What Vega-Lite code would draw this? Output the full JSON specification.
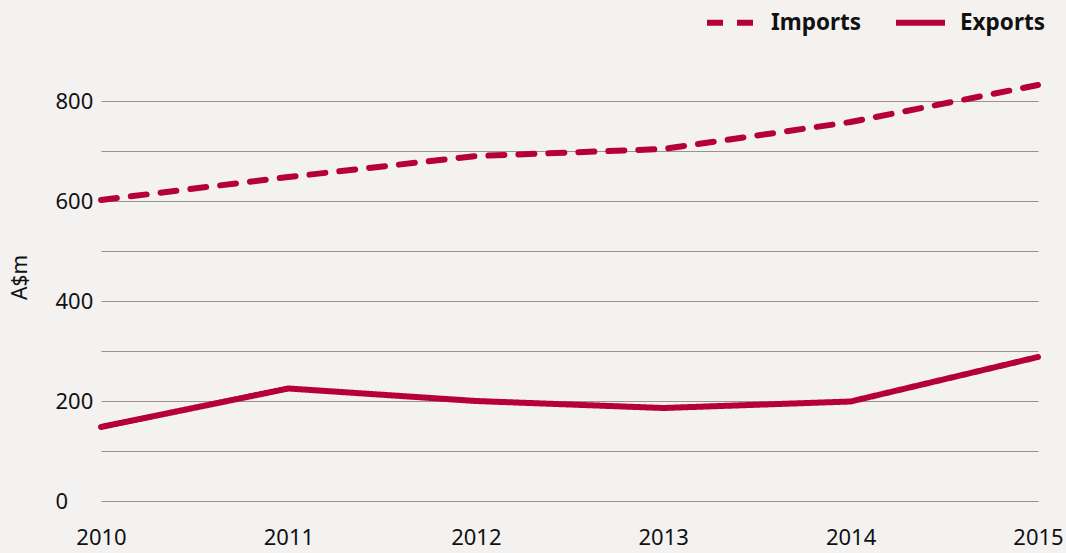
{
  "$schema": "https://vega.github.io/schema/vega-lite/v6.json",
  "width": 937,
  "height": 400,
  "autosize": {"type": "none"},
  "padding": {"left": 101, "top": 101, "right": 28, "bottom": 52},
  "background": "#f4f2f0",
  "config": {
    "view": {"stroke": null},
    "font": "Noto Sans"
  },
  "data": {
    "values": [
      {"year": 2010, "series": "Imports", "value": 602},
      {"year": 2011, "series": "Imports", "value": 648},
      {"year": 2012, "series": "Imports", "value": 690},
      {"year": 2013, "series": "Imports", "value": 704},
      {"year": 2014, "series": "Imports", "value": 758},
      {"year": 2015, "series": "Imports", "value": 832},
      {"year": 2010, "series": "Exports", "value": 148},
      {"year": 2011, "series": "Exports", "value": 225},
      {"year": 2012, "series": "Exports", "value": 200},
      {"year": 2013, "series": "Exports", "value": 186},
      {"year": 2014, "series": "Exports", "value": 199},
      {"year": 2015, "series": "Exports", "value": 288}
    ]
  },
  "mark": {"type": "line", "strokeWidth": 6, "strokeCap": "round", "strokeJoin": "round", "clip": false},
  "encoding": {
    "x": {
      "field": "year",
      "type": "quantitative",
      "scale": {"domain": [2010, 2015], "nice": false, "zero": false},
      "axis": {
        "title": null,
        "grid": false,
        "domain": false,
        "ticks": false,
        "values": [2010, 2011, 2012, 2013, 2014, 2015],
        "format": "d",
        "labelFontSize": 22,
        "labelColor": "#111111",
        "labelPadding": 26,
        "labelFlush": false,
        "labelOverlap": false,
        "labelBound": false
      }
    },
    "y": {
      "field": "value",
      "type": "quantitative",
      "scale": {"domain": [0, 800], "nice": false},
      "axis": {
        "title": "A$m",
        "titleFontSize": 21,
        "titleFontWeight": "normal",
        "titleColor": "#111111",
        "titleAngle": -90,
        "titleX": -81,
        "titleY": 176,
        "titleAlign": "center",
        "titleBaseline": "middle",
        "values": [0, 100, 200, 300, 400, 500, 600, 700, 800],
        "labelExpr": "datum.value % 200 === 0 ? datum.label : ''",
        "grid": true,
        "gridColor": "#9b918b",
        "gridWidth": 1.2,
        "domain": false,
        "ticks": false,
        "labelAlign": "left",
        "labelPadding": 46,
        "labelFontSize": 22,
        "labelColor": "#111111"
      }
    },
    "color": {
      "field": "series",
      "type": "nominal",
      "scale": {"domain": ["Imports", "Exports"], "range": ["#b5003a", "#b5003a"]},
      "legend": {
        "title": null,
        "orient": "none",
        "legendX": 603,
        "legendY": -106,
        "direction": "horizontal",
        "symbolType": "stroke",
        "symbolSize": 2400,
        "symbolStrokeWidth": 6,
        "labelFontSize": 22.5,
        "labelFontWeight": "bold",
        "labelColor": "#111111",
        "labelOffset": 12,
        "columnPadding": 22
      }
    },
    "strokeDash": {
      "field": "series",
      "type": "nominal",
      "scale": {"domain": ["Imports", "Exports"], "range": [[16, 14], [1, 0]]},
      "legend": {
        "title": null,
        "orient": "none",
        "legendX": 603,
        "legendY": -106,
        "direction": "horizontal",
        "symbolType": "stroke",
        "symbolSize": 2400,
        "symbolStrokeWidth": 6,
        "labelFontSize": 22.5,
        "labelFontWeight": "bold",
        "labelColor": "#111111",
        "labelOffset": 12,
        "columnPadding": 22
      }
    }
  }
}
